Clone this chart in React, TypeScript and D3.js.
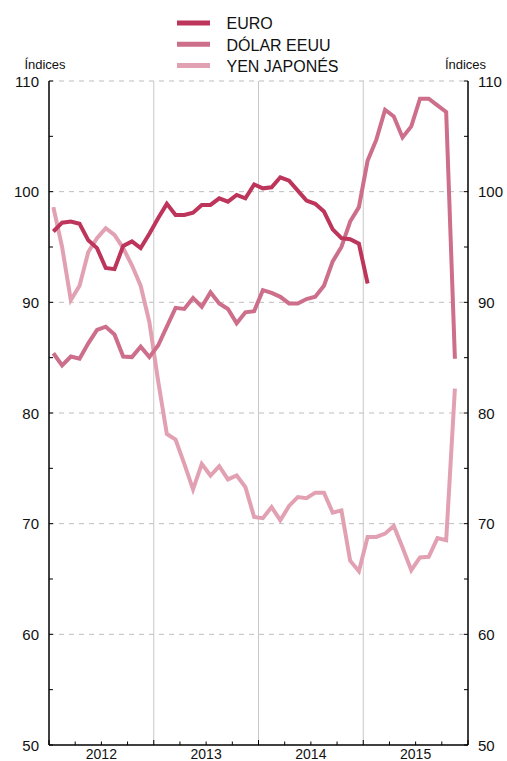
import * as d3 from 'd3';

// monthly index values, Jan 2012 onwards
const euro = [
  96.4, 97.2, 97.3, 97.1, 95.6, 94.9, 93.1, 93.0, 95.1, 95.5, 94.9, 96.2,
  97.6, 98.9, 97.9, 97.9, 98.1, 98.8, 98.8, 99.4, 99.1, 99.7, 99.4, 100.65,
  100.3, 100.4, 101.3, 101.0, 100.1, 99.2, 98.9, 98.2, 96.6, 95.8, 95.7, 95.3,
  91.7,
];
const dolar = [
  85.4, 84.3, 85.1, 84.9, 86.3, 87.5, 87.8, 87.1, 85.1, 85.05, 86.0, 85.05,
  86.1, 87.8, 89.5, 89.4, 90.4, 89.6, 90.9, 89.9, 89.4, 88.1, 89.1, 89.2,
  91.1, 90.85, 90.5, 89.9, 89.9, 90.3, 90.5, 91.5, 93.7, 95.0, 97.3, 98.6,
  102.8, 104.7, 107.4, 106.8, 104.9, 105.9, 108.4, 108.4, 107.8, 107.2, 84.9,
];
const yen = [
  98.6, 95.0, 90.2, 91.5, 94.55, 95.8, 96.7, 96.1, 94.9, 93.35, 91.5, 88.2,
  82.9, 78.1, 77.6, 75.4, 73.1, 75.4, 74.35, 75.2, 74.0, 74.35, 73.3, 70.6,
  70.5, 71.5, 70.3, 71.6, 72.4, 72.3, 72.8, 72.8, 71.0, 71.2, 66.65, 65.7,
  68.8, 68.8, 69.1, 69.8, 67.85, 65.8, 66.95, 67.0, 68.7, 68.5, 82.2,
];

const years = ['2012', '2013', '2014', '2015'];
const yTicks = [50, 60, 70, 80, 90, 100, 110];
const seriesNames = ['EURO', 'DÓLAR EEUU', 'YEN JAPONÉS'];
const colors = ['#bd355a', '#cd6e8b', '#e2a1b3'];

const W = 507;
const H = 761;
const left = 49;
const right = 468;
const top = 81;
const bottom = 745;
const font = '"Liberation Sans", Arial, sans-serif';

export default function App() {
  const x = d3.scaleLinear().domain([0, 48]).range([left, right]);
  const y = d3.scaleLinear().domain([50, 110]).range([bottom, top]);
  const line = d3
    .line<number>()
    .x((_, i) => x(i + 0.5))
    .y((d) => y(d));

  const series = [euro, dolar, yen];
  const minorY = d3.range(50, 111, 5);
  const quarters = d3.range(0, 49, 3);

  return (
    <div style={{ position: 'absolute', left: 0, top: 0 }}>
      <svg width={W} height={H} style={{ display: 'block', fontFamily: font }}>
        {/* dashed grid */}
        {yTicks.filter((t) => t > 50).map((t) => (
          <line key={t} x1={left} x2={right} y1={y(t)} y2={y(t)}
            stroke="#bdbdbd" strokeWidth={1} strokeDasharray="5,5" />
        ))}
        {/* year separators */}
        {[12, 24, 36].map((m) => (
          <line key={m} x1={x(m)} x2={x(m)} y1={top} y2={bottom} stroke="#c8c8c8" strokeWidth={1} />
        ))}

        {/* axes */}
        <line x1={left} x2={left} y1={top} y2={bottom} stroke="#000" strokeWidth={1.5} />
        <line x1={right} x2={right} y1={top} y2={bottom} stroke="#000" strokeWidth={1.5} />
        <line x1={left} x2={right} y1={bottom} y2={bottom} stroke="#000" strokeWidth={1.5} />
        {minorY.map((t) => (
          <g key={t}>
            <line x1={left} x2={left + 4} y1={y(t)} y2={y(t)} stroke="#000" strokeWidth={1} />
            <line x1={right - 4} x2={right} y1={y(t)} y2={y(t)} stroke="#000" strokeWidth={1} />
          </g>
        ))}
        {quarters.map((m) => (
          <line key={m} x1={x(m)} x2={x(m)} y1={bottom} y2={bottom - (m % 12 === 0 ? 5 : 3.5)}
            stroke="#000" strokeWidth={1} />
        ))}

        {/* y labels */}
        {yTicks.map((t) => (
          <g key={t} fontSize={15} fill="#111">
            <text x={39} y={y(t) + 5.5} textAnchor="end">{t}</text>
            <text x={478} y={y(t) + 5.5}>{t}</text>
          </g>
        ))}
        <text x={45} y={69} fontSize={13} textAnchor="middle" fill="#111">Índices</text>
        <text x={465.5} y={69} fontSize={13} textAnchor="middle" fill="#111">Índices</text>

        {/* year labels */}
        {years.map((yr, i) => (
          <text key={yr} x={x(i * 12 + 6)} y={759} fontSize={14} textAnchor="middle" fill="#111">{yr}</text>
        ))}

        {/* series */}
        {[2, 1, 0].map((k) => (
          <path key={k} d={line(series[k]) || ''} fill="none" stroke={colors[k]} strokeWidth={4} />
        ))}

        {/* legend */}
        {seriesNames.map((name, i) => (
          <g key={name}>
            <line x1={177} x2={210} y1={23 + i * 21.3} y2={23 + i * 21.3} stroke={colors[i]} strokeWidth={5} />
            <text x={226.5} y={29 + i * 21.5} fontSize={16} fill="#111">{name}</text>
          </g>
        ))}
      </svg>
    </div>
  );
}
